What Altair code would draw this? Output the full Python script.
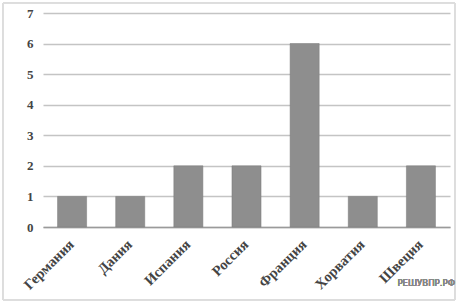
import altair as alt
import pandas as pd

countries = ["Германия", "Дания", "Испания", "Россия", "Франция", "Хорватия", "Швеция"]
counts = [1, 1, 2, 2, 6, 1, 2]

df = pd.DataFrame({"country": countries, "count": counts})

W, H = 407, 214

base = alt.Chart(df)

bars = base.mark_bar(color="#8e8e8e", stroke="#7a7a7a", strokeWidth=0.5).encode(
    x=alt.X(
        "country:N",
        sort=countries,
        title=None,
        scale=alt.Scale(paddingInner=0.5, paddingOuter=0.25),
        axis=alt.Axis(
            labelAngle=-45,
            labelAlign="right",
            labelBaseline="middle",
            labelFont="Liberation Serif",
            labelFontSize=14.5,
            labelFontWeight="bold",
            labelColor="#444444",
            labelPadding=15,
            ticks=False,
            domainColor="#9a9a9a",
            domainWidth=1.5,
        ),
    ),
    y=alt.Y(
        "count:Q",
        title=None,
        scale=alt.Scale(domain=[0, 7], nice=False),
        axis=alt.Axis(
            values=list(range(0, 8)),
            labelFont="Liberation Serif",
            labelFontSize=13,
            labelFontWeight="bold",
            labelColor="#444444",
            labelPadding=10,
            ticks=False,
            domain=False,
            grid=True,
            gridColor="#c4c4c4",
            gridWidth=1.5,
        ),
    ),
)

# thin frame round the whole figure
frame = base.mark_rect(fill=None, stroke="#dddddd", strokeWidth=1).encode(
    x=alt.value(-40), x2=alt.value(W + 5), y=alt.value(-10), y2=alt.value(H + 73)
)

mark = base.mark_text(
    text="РЕШУВПР.РФ", font="DejaVu Sans Condensed", fontSize=9.5, color="#888888", align="right"
).encode(x=alt.value(W + 5), y=alt.value(H + 56))

chart = (
    alt.layer(bars, frame, mark)
    .properties(width=W, height=H, padding={"left": 43, "top": 13, "right": 10, "bottom": 78})
    .configure(autosize=alt.AutoSizeParams(type="none"))
    .configure_view(stroke=None)
)

chart.save("out.html", embed_options={"renderer": "svg", "actions": False})
